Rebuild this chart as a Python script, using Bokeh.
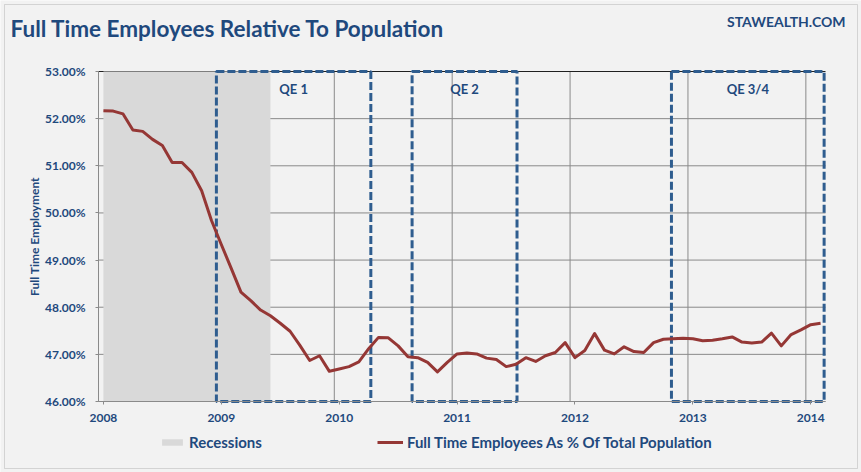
from bokeh.plotting import figure
from bokeh.models import (Range1d, FixedTicker, PrintfTickFormatter, CustomJSTickFormatter,
                          Label, Legend, LegendItem, BoxAnnotation)
from bokeh.core.properties import value
from bokeh.embed import file_html
from bokeh.resources import INLINE

# ---------------- data ----------------
title_text = "Full Time Employees Relative To Population"
site_text = "STAWEALTH.COM"
y_title = "Full Time Employment"
series_name = "Full Time Employees As % Of Total Population"
recession_name = "Recessions"

first_month = (2008, 1)           # first monthly observation
ft_pct = [
    52.17, 52.16, 52.10, 51.76, 51.73, 51.56, 51.43, 51.07, 51.07, 50.86, 50.47, 49.84,  # 2008
    49.33, 48.83, 48.32, 48.14, 47.94, 47.82, 47.66, 47.49, 47.19, 46.87, 46.97, 46.64,  # 2009
    46.69, 46.74, 46.84, 47.12, 47.36, 47.35, 47.18, 46.95, 46.93, 46.83, 46.63, 46.83,  # 2010
    47.01, 47.03, 47.01, 46.92, 46.89, 46.74, 46.79, 46.93, 46.85, 46.97, 47.04, 47.25,  # 2011
    46.93, 47.08, 47.44, 47.09, 47.01, 47.16, 47.06, 47.04, 47.25, 47.32, 47.33, 47.34,  # 2012
    47.33, 47.29, 47.30, 47.33, 47.37, 47.26, 47.24, 47.26, 47.45, 47.18, 47.42, 47.52,  # 2013
    47.63, 47.66,                                                                   # 2014
]

recession_start = (2008, 1)
recession_end = (2009, 6)

qe_labels = ["QE 1", "QE 2", "QE 3/4"]
qe_start = [2009.0, 2010.66, 2012.86]
qe_end = [2010.31, 2011.55, 2014.155]

year_ticks = [2008, 2009, 2010, 2011, 2012, 2013, 2014]
y_ticks = [46, 47, 48, 49, 50, 51, 52, 53]
y_min, y_max = 46.0, 53.0
x_min, x_max = 2008.0, 2014 + 2 / 12

# ---------------- layout / styles ----------------
FONT = "Lato"
TXT = "#1F497D"
BG = "#F2F2F2"
GRID = "#8A8A8A"
TOPLINE = "#202020"
LINE = "#953735"
QE = "#2F5D8F"
REC = "#D9D9D9"
W, H = 861, 472
PA_LEFT, PA_RIGHT, PA_TOP, PA_BOTTOM = 98, 825, 71, 401   # plot area in canvas pixels
px_per_year = (PA_RIGHT - PA_LEFT) / (x_max - x_min)
px_per_pct = (PA_BOTTOM - PA_TOP) / (y_max - y_min)
x_lo = x_min - PA_LEFT / px_per_year
x_hi = x_max + (W - PA_RIGHT) / px_per_year
y_hi = y_max + PA_TOP / px_per_pct
y_lo = y_min - (H - PA_BOTTOM) / px_per_pct


def mid_month(y, m):
    return y + (m - 0.5) / 12


months_x = []
for i in range(len(ft_pct)):
    total = first_month[0] * 12 + (first_month[1] - 1) + i
    months_x.append(mid_month(total // 12, total % 12 + 1))

p = figure(width=W, height=H, output_backend="svg", toolbar_location=None,
           x_range=Range1d(x_lo, x_hi), y_range=Range1d(y_lo, y_hi),
           min_border_left=0, min_border_right=0, min_border_top=0, min_border_bottom=0)
p.title.visible = False
p.background_fill_color = BG
p.border_fill_color = BG
p.outline_line_color = None

# grid (limited to the plot area)
p.xgrid.visible = False
p.ygrid.visible = False
p.segment(x0=year_ticks, y0=[y_min] * len(year_ticks), x1=year_ticks, y1=[y_max] * len(year_ticks),
          line_color=GRID, line_width=1, level="underlay")
p.segment(x0=[x_min] * len(y_ticks), y0=y_ticks, x1=[x_max] * len(y_ticks), y1=y_ticks,
          line_color=[TOPLINE if t == y_max else GRID for t in y_ticks], line_width=1, level="underlay")

# recession shading
rec = p.varea(x=[mid_month(*recession_start), mid_month(*recession_end)],
              y1=[y_min, y_min], y2=[y_max, y_max], fill_color=REC)

# QE boxes
p.quad(left=qe_start, right=qe_end, bottom=y_min, top=y_max, fill_alpha=0,
       line_color=QE, line_width=3, line_dash="8 3")
p.text(x=[(a + b) / 2 for a, b in zip(qe_start, qe_end)], y=[y_max] * len(qe_labels), text=qe_labels,
       text_align="center", text_baseline="alphabetic", y_offset=17,
       text_font=value(FONT), text_font_style="bold", text_font_size="13px", text_color=TXT)

# series
ln = p.line(months_x, ft_pct, line_color=LINE, line_width=3, line_join="round")

# axes, pinned to the plot area
p.xaxis.fixed_location = y_min
p.xaxis.bounds = (x_min, x_max)
p.xaxis.ticker = FixedTicker(ticks=[y + 0.5 / 12 for y in year_ticks])
p.xaxis.formatter = CustomJSTickFormatter(code="return Math.floor(tick).toFixed(0);")
p.yaxis.fixed_location = x_min
p.yaxis.bounds = (y_min, y_max)
p.yaxis.ticker = FixedTicker(ticks=y_ticks)
p.yaxis.formatter = PrintfTickFormatter(format="%.2f%%")
for ax in (p.xaxis[0], p.yaxis[0]):
    ax.axis_line_color = GRID
    ax.major_tick_line_color = GRID
    ax.major_tick_out = 3
    ax.major_tick_in = 0
    ax.minor_tick_line_color = None
    ax.major_label_text_font = FONT
    ax.major_label_text_font_style = "bold"
    ax.major_label_text_font_size = "12px"
    ax.major_label_text_color = TXT
p.xaxis.major_label_standoff = 9
p.yaxis.major_label_standoff = 10
p.yaxis.axis_label = y_title
p.yaxis.axis_label_text_font = FONT
p.yaxis.axis_label_text_font_style = "bold"
p.yaxis.axis_label_text_font_size = "12px"
p.yaxis.axis_label_text_color = TXT
p.yaxis.axis_label_standoff = 0

# chart-area border
p.add_layout(BoxAnnotation(left=4, right=W - 4, bottom=4, top=H - 4,
                           left_units="screen", right_units="screen",
                           bottom_units="screen", top_units="screen",
                           fill_alpha=0, line_color="#8C8C8C", line_width=1))

# titles
p.add_layout(Label(x=10, y=H - 28, x_units="screen", y_units="screen", text=title_text,
                   text_font=FONT, text_font_style="bold", text_font_size="22.5px",
                   text_color=TXT, text_baseline="alphabetic"))
p.add_layout(Label(x=845, y=H - 21, x_units="screen", y_units="screen", text=site_text,
                   text_font=FONT, text_font_style="bold", text_font_size="14px",
                   text_color=TXT, text_baseline="alphabetic", text_align="right"))

# legend
legend = Legend(items=[LegendItem(label=recession_name, renderers=[rec]),
                       LegendItem(label=series_name, renderers=[ln])],
                location=(159, 21), orientation="horizontal",
                glyph_width=26, glyph_height=8, padding=0, margin=0, spacing=115,
                label_standoff=4, label_text_font=FONT, label_text_font_style="bold",
                label_text_font_size="15px", label_text_color=TXT,
                background_fill_alpha=0, border_line_color=None)
p.add_layout(legend)

open("out.html", "w").write(file_html(p, INLINE))
